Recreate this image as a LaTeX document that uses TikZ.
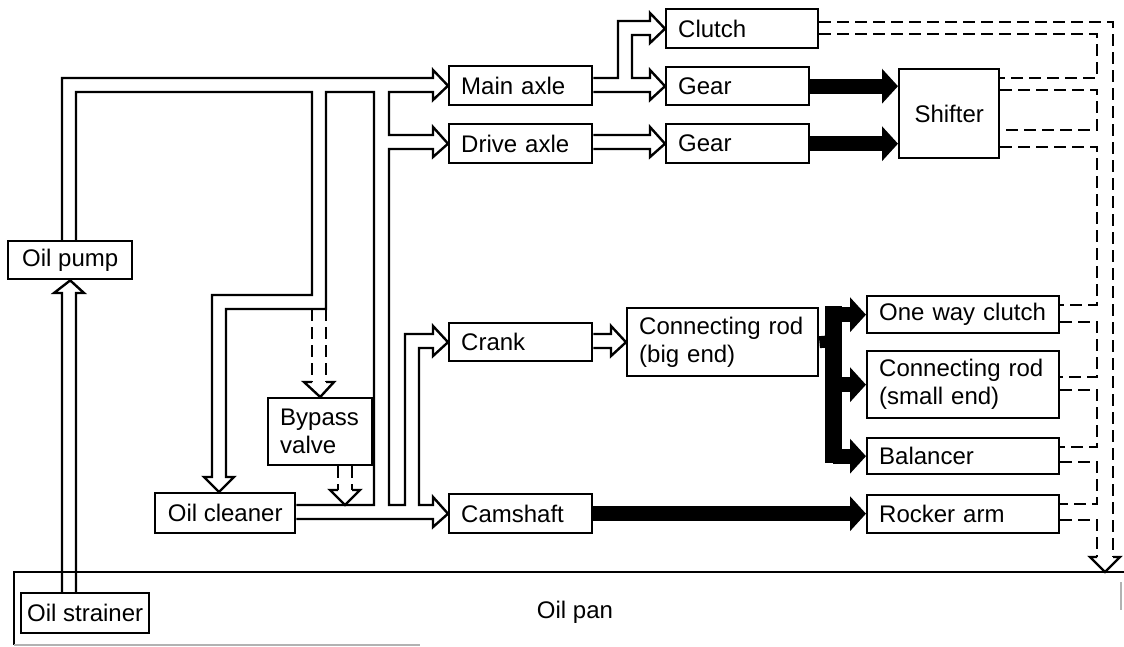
\documentclass[tikz,border=0pt]{standalone}
\usepackage{fontspec}
\setmainfont{Liberation Sans}
\usetikzlibrary{arrows.meta}

\begin{document}
\begin{tikzpicture}[
  x=0.5pt, y=-0.5pt,
  box/.style={draw, line width=1.2pt, anchor=north west, inner xsep=6pt, inner ysep=0pt, align=left, font=\fontsize{12}{14}\selectfont},
  cbox/.style={box, inner xsep=1pt, align=center},
  pipe/.style={line width=1.2pt},
  ret/.style={line width=1.2pt, dash pattern=on 6pt off 3pt},
  fat/.style={line width=7.5pt, -{Triangle[width=17pt,length=8pt]}}
]
\useasboundingbox (0,0) rectangle (1124,647);

% oil pan
\draw[pipe] (1124,572) -- (14,572) -- (14,645);
\draw[gray!60, line width=0.6pt] (14,645) -- (420,645);
\draw[gray!60, line width=0.6pt] (1121,582) -- (1121,610);
\node[font=\fontsize{12}{14}\selectfont] (pan) at (575,612) {Oil pan};

% boxes
\node[cbox, minimum width=62pt, minimum height=19pt] (pump) at (7,240) {Oil pump};
\node[cbox, minimum width=64pt, minimum height=20pt] (strainer) at (20,592) {Oil strainer};
\node[cbox, minimum width=70pt, minimum height=20pt] (cleaner) at (154,492) {Oil cleaner};
\node[box, text width=40pt, minimum height=33.5pt] (bypass) at (267,397) {Bypass\\valve};
\node[box, text width=59.5pt, minimum height=19.5pt] (main) at (448,65) {Main axle};
\node[box, text width=59.5pt, minimum height=19.5pt] (drive) at (448,123) {Drive axle};
\node[box, text width=59.5pt, minimum height=19pt] (crank) at (448,322) {Crank};
\node[box, text width=59.5pt, minimum height=19.5pt] (cam) at (448,493) {Camshaft};
\node[box, text width=83.5pt, minimum height=34pt] (bigend) at (626,307) {Connecting rod\\(big end)};
\node[box, text width=64pt, minimum height=19.5pt] (clutch) at (665,8) {Clutch};
\node[box, text width=59.5pt, minimum height=19pt] (gearA) at (665,66) {Gear};
\node[box, text width=59.5pt, minimum height=19.5pt] (gearB) at (665,123) {Gear};
\node[cbox, minimum width=50pt, minimum height=44.5pt] (shifter) at (898,68) {Shifter};
\node[box, text width=84pt, minimum height=18.5pt] (owc) at (866,295) {One way clutch};
\node[box, text width=84pt, minimum height=33.5pt] (smallend) at (866,350) {Connecting rod\\(small end)};
\node[box, text width=84pt, minimum height=18pt] (balancer) at (866,437) {Balancer};
\node[box, text width=84pt, minimum height=19pt] (rocker) at (866,494) {Rocker arm};

% strainer -> pump
\draw[pipe] (strainer.north -| 62,0) -- (62,293) -- (54,293) -- (pump.south) -- (84,293) -- (76,293) -- (strainer.north -| 76,0);

% pump -> axles, crank, camshaft (outer walls)
\draw[pipe] (pump.north -| 62,0) -- (62,78) -- (433,78) -- (433,70) -- (main.west) -- (433,100) -- (433,92)
  -- (389,92) -- (389,135) -- (433,135) -- (433,127) -- (drive.west) -- (433,157) -- (433,149)
  -- (389,149) -- (389,505) -- (405,505) -- (405,334) -- (433,334) -- (433,326) -- (crank.west) -- (433,356) -- (433,348)
  -- (419,348) -- (419,505) -- (433,505) -- (433,497) -- (cam.west) -- (433,527) -- (433,519) -- (cleaner.east |- 0,519);
% pump -> cleaner (inner walls)
\draw[pipe] (pump.north -| 76,0) -- (76,92) -- (312,92) -- (312,295) -- (212,295) -- (212,477) -- (204,477) -- (219,492)
  -- (234,477) -- (226,477) -- (226,309) -- (326,309) -- (326,92) -- (374,92) -- (374,505) -- (cleaner.east |- 0,505);

% main axle -> clutch, gear
\draw[pipe] (main.east |- 0,78) -- (618,78) -- (618,21) -- (650,21) -- (650,13) -- (clutch.west) -- (650,43) -- (650,35)
  -- (632,35) -- (632,78) -- (650,78) -- (650,70) -- (gearA.west) -- (650,100) -- (650,92) -- (main.east |- 0,92);
% drive axle -> gear
\draw[pipe] (drive.east |- 0,135) -- (650,135) -- (650,127) -- (gearB.west) -- (650,157) -- (650,149) -- (drive.east |- 0,149);
% crank -> big end
\draw[pipe] (crank.east |- 0,334) -- (611,334) -- (611,326) -- (bigend.west) -- (611,356) -- (611,348) -- (crank.east |- 0,348);

% bypass valve
\draw[ret] (312,309) -- (312,382);
\draw[ret] (326,309) -- (326,382);
\draw[pipe] (312,382) -- (304,382) -- (bypass.north) -- (334,382) -- (326,382);
\draw[ret] (bypass.south -| 338,0) -- (338,490);
\draw[ret] (bypass.south -| 352,0) -- (352,490);
\draw[pipe] (338,490) -- (330,490) -- (345,505) -- (360,490) -- (352,490);

% solid drive
\draw[fat] (gearA.east) -- (gearA.east -| shifter.west);
\draw[fat] (gearB.east) -- (gearB.east -| shifter.west);
\draw[fat] (cam.east) -- (cam.east -| rocker.west);
\draw[line width=6pt] (bigend.east) -- (833,341);
\draw[line width=8.5pt] (833,306) -- (833,462.5);
\draw[fat] (owc.west -| 833,0) -- (owc.west);
\draw[fat] (smallend.west -| 833,0) -- (smallend.west);
\draw[fat] (balancer.west -| 833,0) -- (balancer.west);

% return to oil pan
\draw[ret] (clutch.east |- 0,22) -- (1113,22) -- (1113,557);
\draw[ret] (clutch.east |- 0,34) -- (1097,34) -- (1097,78) -- (shifter.east |- 0,78);
\draw[ret] (shifter.east |- 0,90) -- (1097,90) -- (1097,130) -- (shifter.east |- 0,130);
\draw[ret] (shifter.east |- 0,147) -- (1097,147) -- (1097,305) -- (owc.east |- 0,305);
\draw[ret] (owc.east |- 0,322) -- (1097,322) -- (1097,377) -- (smallend.east |- 0,377);
\draw[ret] (smallend.east |- 0,390) -- (1097,390) -- (1097,447) -- (balancer.east |- 0,447);
\draw[ret] (balancer.east |- 0,462) -- (1097,462) -- (1097,504) -- (rocker.east |- 0,504);
\draw[ret] (rocker.east |- 0,520) -- (1097,520) -- (1097,557);
\draw[pipe] (1097,557) -- (1090,557) -- (1105,572) -- (1120,557) -- (1113,557);
\end{tikzpicture}
\end{document}
